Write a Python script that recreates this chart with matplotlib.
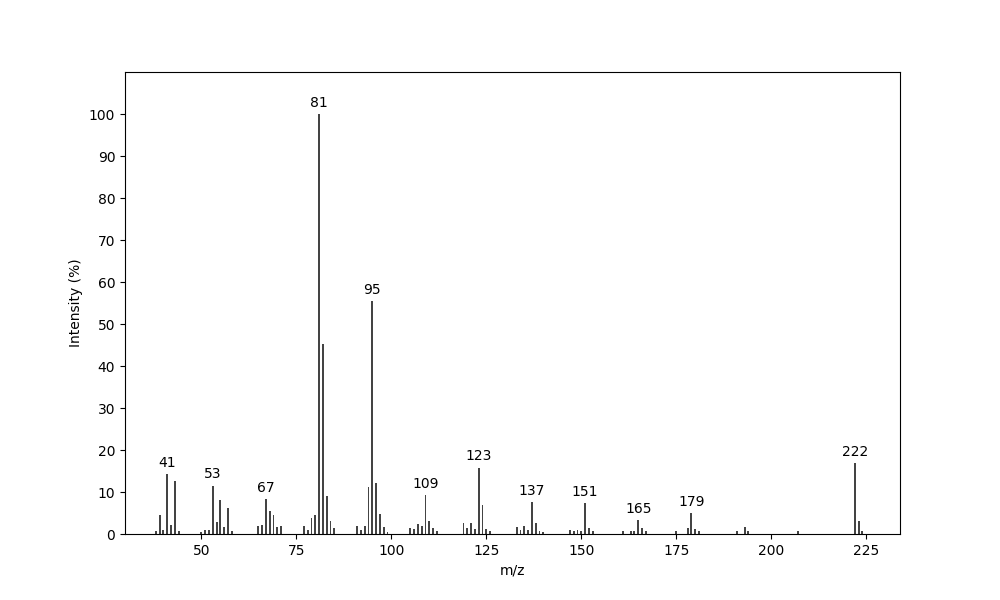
import matplotlib
matplotlib.use('Agg')
import matplotlib.pyplot as plt

# m/z values and relative intensities (%)
mz = [38, 39, 40, 41, 42, 43, 44,
      50, 51, 52, 53, 54, 55, 56, 57, 58,
      65, 66, 67, 68, 69, 70, 71,
      77, 78, 79, 80, 81, 82, 83, 84, 85,
      91, 92, 93, 94, 95, 96, 97, 98, 99,
      105, 106, 107, 108, 109, 110, 111, 112,
      119, 120, 121, 122, 123, 124, 125, 126,
      133, 134, 135, 136, 137, 138, 139, 140,
      147, 148, 149, 150, 151, 152, 153,
      161, 163, 164, 165, 166, 167,
      175, 178, 179, 180, 181,
      191, 193, 194,
      207,
      222, 223, 224]
intensity = [0.7, 4.5, 1.0, 14.2, 2.1, 12.6, 0.7,
             0.5, 1.0, 1.0, 11.5, 2.9, 8.1, 1.7, 6.2, 0.7,
             1.9, 2.1, 8.4, 5.5, 4.5, 1.7, 1.9,
             1.9, 1.0, 3.8, 4.5, 100.0, 45.3, 9.1, 3.1, 1.4,
             1.9, 1.0, 1.9, 11.2, 55.4, 12.2, 4.8, 1.7, 0.5,
             1.4, 1.2, 2.4, 1.9, 9.3, 3.1, 1.4, 0.7,
             2.6, 1.4, 2.6, 1.2, 15.8, 6.9, 1.2, 0.7,
             1.7, 1.0, 1.9, 1.0, 7.6, 2.6, 0.7, 0.5,
             1.0, 0.7, 1.0, 0.7, 7.4, 1.4, 0.7,
             0.7, 0.7, 0.7, 3.3, 1.4, 0.7,
             0.7, 1.4, 5.0, 1.2, 0.7,
             0.7, 1.7, 0.7,
             0.7,
             16.9, 3.1, 0.7]

# peaks that carry a label
labeled = [41, 53, 67, 81, 95, 109, 123, 137, 151, 165, 179, 222]

fig, ax = plt.subplots(figsize=(10, 6), dpi=100)

ax.bar(mz, intensity, width=0.5, color='#444444')

for m, h in zip(mz, intensity):
    if m in labeled:
        ax.text(m, h + 1.0, str(m), ha='center', va='bottom', fontsize=10)

ax.set_xlim(29.9, 233.9)
ax.set_ylim(0, 110)
ax.set_yticks(range(0, 101, 10))
ax.set_xlabel('m/z')
ax.set_ylabel('Intensity (%)')

plt.savefig('out.png', dpi=100)
